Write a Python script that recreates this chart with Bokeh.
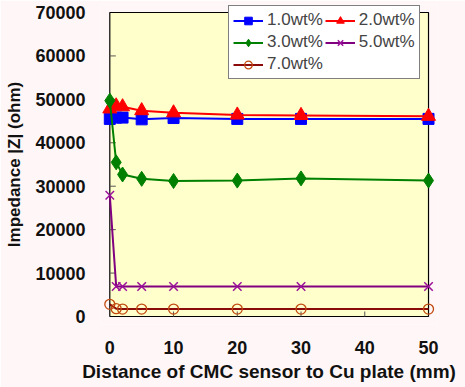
import numpy as np
from bokeh.plotting import figure
from bokeh.models import Range1d, FixedTicker, Legend, LegendItem
from bokeh.embed import file_html
from bokeh.resources import INLINE

# ---- data ----
distance = [0, 1, 2, 5, 10, 20, 30, 50]
wt10 = [45500, 45800, 45800, 45400, 45700, 45500, 45500, 45500]
wt20 = [47800, 48500, 48300, 47400, 46900, 46400, 46300, 46100]
wt30 = [49700, 35500, 32700, 31700, 31200, 31300, 31800, 31300]
wt50 = [27900, 6900, 6900, 6900, 6900, 6900, 6900, 6900]
wt70 = [2800, 1800, 1700, 1700, 1700, 1700, 1700, 1700]
x_ticks = [0, 10, 20, 30, 40, 50]
y_ticks = [0, 10000, 20000, 30000, 40000, 50000, 60000, 70000]
x_min, x_max = 0, 50
y_min, y_max = 0, 70000

PAGE = "#fff7f7"
FONT = "Liberation Sans"

p = figure(width=465, height=387, output_backend="svg", toolbar_location=None,
           x_range=Range1d(-1.46, 51.41), y_range=Range1d(-1842, 71842),
           min_border_left=100, min_border_right=28, min_border_top=4, min_border_bottom=63)
p.background_fill_color = PAGE
p.border_fill_color = PAGE
p.outline_line_color = None
p.grid.visible = False

# plot area
p.quad(left=x_min, right=x_max, bottom=y_min, top=y_max,
       fill_color="#ffffcc", line_color="black", line_width=1.2)
# inner ticks
p.ray(x=x_ticks[1:-1], y=[y_min] * (len(x_ticks) - 2), length=5, length_units="screen",
      angle=np.pi / 2, line_color="#555555", line_width=1)
p.ray(x=[x_min] * (len(y_ticks) - 2), y=y_ticks[1:-1], length=6, length_units="screen",
      angle=0, line_color="#555555", line_width=1)

r1l = p.line(distance, wt10, line_color="#0000ff", line_width=2)
r1m = p.scatter(distance, wt10, marker="square", size=11, fill_color="#0000ff", line_color="#0000ff")
r2l = p.line(distance, wt20, line_color="#ff0000", line_width=2)
r2m = p.scatter(distance, wt20, marker="triangle", size=14, fill_color="#ff0000", line_color="#ff0000")
r3l = p.line(distance, wt30, line_color="#008000", line_width=2)
r3m = p.scatter(distance, wt30, marker="diamond", size=15, fill_color="#008000", line_color="#008000")
r5l = p.line(distance, wt50, line_color="#800080", line_width=2)
r5m = p.scatter(distance, wt50, marker="x", size=12, line_color="#9a109a", line_width=1.5)
r7l = p.line(distance, wt70, line_color="#8b0a0a", line_width=2)
r7m = p.scatter(distance, wt70, marker="circle", size=10, fill_color=None, line_color="#c04a10", line_width=1.3)

for ax in (p.xaxis[0], p.yaxis[0]):
    ax.axis_line_color = None
    ax.major_tick_line_color = None
    ax.minor_tick_line_color = None
    ax.major_label_text_font = FONT
    ax.major_label_text_font_style = "bold"
    ax.major_label_text_font_size = "18px"
    ax.major_label_text_color = "#111111"
    ax.axis_label_text_font = FONT
    ax.axis_label_text_font_style = "bold"
    ax.axis_label_text_color = "#111111"

p.xaxis.ticker = FixedTicker(ticks=x_ticks)
p.yaxis.ticker = FixedTicker(ticks=y_ticks)
p.xaxis.major_label_standoff = 10
p.yaxis.major_label_standoff = 9
p.xaxis.axis_label = "Distance of CMC sensor to Cu plate (mm)"
p.yaxis.axis_label = "Impedance |Z| (ohm)"
p.xaxis.axis_label_text_font_size = "19px"
p.yaxis.axis_label_text_font_size = "17px"
p.xaxis.axis_label_standoff = 4
p.yaxis.axis_label_standoff = 8

# column-major fill: first column 1.0 / 3.0 / 7.0, second column 2.0 / 5.0
legend = Legend(items=[
    LegendItem(label="1.0wt%", renderers=[r1l, r1m]),
    LegendItem(label="3.0wt%", renderers=[r3l, r3m]),
    LegendItem(label="7.0wt%", renderers=[r7l, r7m]),
    LegendItem(label="2.0wt%", renderers=[r2l, r2m]),
    LegendItem(label="5.0wt%", renderers=[r5l, r5m]),
], ncols=2, location=(128, 245))
legend.label_text_font = FONT
legend.label_text_font_size = "17px"
legend.label_height = 19
legend.glyph_height = 19
legend.glyph_width = 30
legend.spacing = 2
legend.padding = 4
legend.margin = 0
legend.label_standoff = 4
legend.border_line_color = "black"
legend.border_line_width = 1
legend.background_fill_color = "white"
legend.background_fill_alpha = 1
p.add_layout(legend, "center")

open("out.html", "w").write(file_html(p, INLINE))
